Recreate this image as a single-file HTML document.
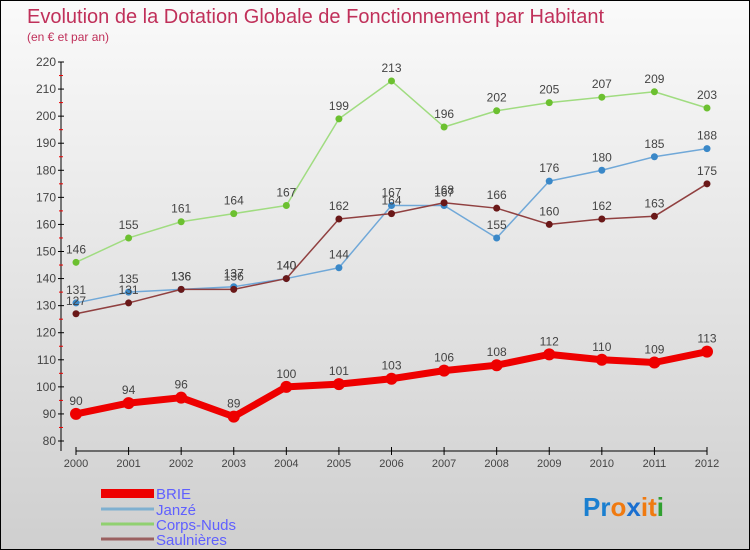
<!DOCTYPE html>
<html><head><meta charset="utf-8"><style>
body{margin:0}
#wrap{width:750px;height:550px;position:relative;box-sizing:border-box;border:1px solid #000;background:linear-gradient(#fafafa,#cfcfcf);font-family:"Liberation Sans",sans-serif;overflow:hidden}
</style></head><body>
<div id="wrap">
<svg id="chart" width="750" height="550" style="position:absolute;left:0;top:0">
<text x="26" y="22" font-size="20" fill="#c0305a">Evolution de la Dotation Globale de Fonctionnement par Habitant</text>
<text x="26" y="40" font-size="12" fill="#c0305a">(en € et par an)</text>
<g id="axes"></g><g id="series"></g>
<g>
<rect x="100" y="488" width="53" height="9" fill="#e00"/>
<text x="155" y="498" font-size="15" fill="#6060ff">BRIE</text>
<line x1="100" y1="508" x2="153" y2="508" stroke="#7fb0d0" stroke-width="3"/>
<text x="155" y="514" font-size="15" fill="#6060ff">Janzé</text>
<line x1="100" y1="523" x2="153" y2="523" stroke="#90d070" stroke-width="3"/>
<text x="155" y="529" font-size="15" fill="#6060ff">Corps-Nuds</text>
<line x1="100" y1="538" x2="153" y2="538" stroke="#9a6060" stroke-width="3"/>
<text x="155" y="544" font-size="15" fill="#6060ff">Saulnières</text>
</g>
<text x="582" y="515" font-size="26" font-weight="bold"><tspan fill="#1a7fd0">Pr</tspan><tspan fill="#f07a10">o</tspan><tspan fill="#1a6fd0">x</tspan><tspan fill="#f07a10">i</tspan><tspan fill="#f07a10">t</tspan><tspan fill="#30a030">i</tspan></text>
</svg>
</div>
<script>
const years=[2000,2001,2002,2003,2004,2005,2006,2007,2008,2009,2010,2011,2012];
const brie=[90,94,96,89,100,101,103,106,108,112,110,109,113];
const janze=[131,135,136,137,140,144,167,167,155,176,180,185,188];
const corpsNuds=[146,155,161,164,167,199,213,196,202,205,207,209,203];
const saulnieres=[127,131,136,136,140,162,164,168,166,160,162,163,175];
const yTicks=[80,90,100,110,120,130,140,150,160,170,180,190,200,210,220];
const NS="http://www.w3.org/2000/svg";
const X=i=>75+i*(706-75)/(years.length-1);
const Y=v=>440-(v-80)*(440-61)/140;
function mk(t,a,p){const e=document.createElementNS(NS,t);for(const k in a)e.setAttribute(k,a[k]);p.appendChild(e);return e;}
const ax=document.getElementById('axes');
const yl=mk('line',{x1:60,y1:Y(220),x2:60,y2:450,stroke:'#000'},ax);


yTicks.forEach(v=>{
 mk('line',{x1:57,y1:Y(v),x2:63,y2:Y(v),stroke:'#000'},ax);
 if(v<220)mk('line',{x1:58,y1:Y(v+5),x2:62,y2:Y(v+5),stroke:'#e00'},ax);
 const t=mk('text',{x:55,y:Y(v)+4,'font-size':12,fill:'#444','text-anchor':'end'},ax);t.textContent=v;
 
 
});
const xl=mk('line',{x1:75,y1:450,x2:706,y2:450,stroke:'#000'},ax);


years.forEach((y,i)=>{
 mk('line',{x1:X(i),y1:446,x2:X(i),y2:454,stroke:'#000'},ax);
 const t=mk('text',{x:X(i),y:466,'font-size':11,fill:'#444','text-anchor':'middle'},ax);t.textContent=y;
 
 
});
const sg=document.getElementById('series');
function series(data,name,line,dot,w,r,lab){
 const g=mk('g',{},sg);
 
 
 mk('polyline',{points:data.map((v,i)=>X(i)+','+Y(v)).join(' '),fill:'none',stroke:line,'stroke-width':w,'stroke-linejoin':'round'},g);
 data.forEach((v,i)=>{
  const c=mk('circle',{cx:X(i),cy:Y(v),r:r,fill:dot},g);
  
  
  const t=mk('text',{x:X(i),y:Y(v)-9,'font-size':12,fill:lab,'text-anchor':'middle'},g);t.textContent=v;
  
  
 });
}
series(corpsNuds,'corps-nuds','#a0dc80','#6cc030',1.5,3.5,'#444');
series(janze,'janze','#70a8d8','#3a88c8',1.5,3.5,'#444');
series(saulnieres,'saulnieres','#904040','#6a1818',1.5,3.5,'#444');
series(brie,'brie','#ee0000','#ee0000',7,6,'#444');
</script>
</body></html>
